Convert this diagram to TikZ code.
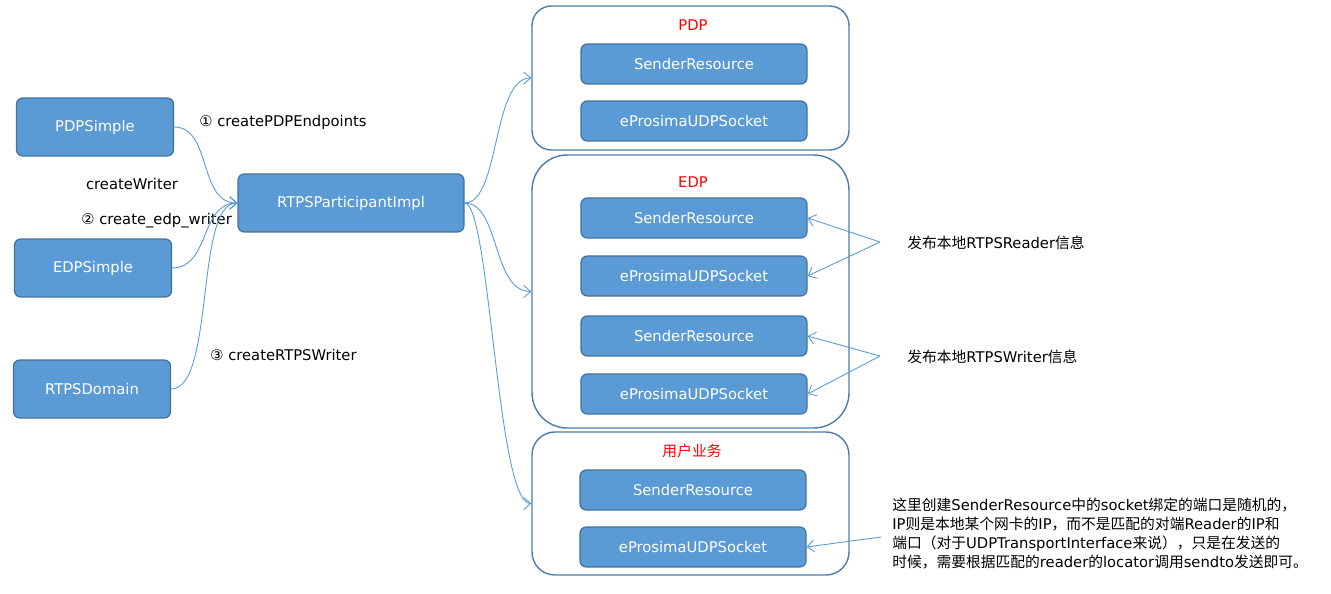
\documentclass[tikz,border=0pt]{standalone}
\usepackage{fontspec}
\setmainfont{DejaVu Sans}
\newfontfamily\cjk{Noto Sans CJK SC}
\usetikzlibrary{arrows.meta}
\definecolor{boxfill}{HTML}{5B9BD5}
\definecolor{boxline}{HTML}{41719C}
\definecolor{conline}{HTML}{5B9BD5}
\definecolor{grpline}{HTML}{4F7DAA}
\definecolor{lblred}{HTML}{FF0000}
\begin{document}
\begin{tikzpicture}[x=0.02cm,y=-0.02cm,
  txt/.style={font=\fontsize{8.4}{10.8}\selectfont, inner sep=0pt},
  blk/.style={draw=boxline, line width=0.7pt, fill=boxfill, rounded corners=3.5pt,
    text=white, txt, minimum width=3.14cm, minimum height=1.16cm},
  inner/.style={blk, minimum width=4.52cm, minimum height=0.8cm},
  grp/.style={draw=grpline, line width=0.8pt, fill=white, minimum width=6.34cm, inner sep=0pt},
  red/.style={txt, text=lblred},
  con/.style={draw=conline, line width=0.5pt, -{Straight Barb[length=4pt,width=7pt]}},
]
\useasboundingbox (0,0) rectangle (1331,594);

% left boxes
\node[blk] (pdps) at (95,127) {PDPSimple};
\node[blk] (edps) at (93,268) {EDPSimple};
\node[blk] (dom) at (92,389) {RTPSDomain};
\node[blk, minimum width=4.52cm] (rtps) at (351,203) {RTPSParticipantImpl};

% groups
\node[grp, minimum height=2.88cm, rounded corners=11pt] (gpdp) at (690.5,78) {};
\node[grp, minimum height=5.46cm, rounded corners=20pt] (gedp) at (690.5,291.5) {};
\node[grp, minimum height=2.86cm, rounded corners=13pt] (gusr) at (690.5,503.5) {};

\node[red] (lpdp) at (693,25) {PDP};
\node[red] (ledp) at (693,182) {EDP};
\node[red] (lusr) at (692,451) {\cjk 用户业务};

\node[inner] (sr1) at (694,64) {SenderResource};
\node[inner] (ep1) at (694,121) {eProsimaUDPSocket};
\node[inner] (sr2) at (694,218) {SenderResource};
\node[inner] (ep2) at (694,276) {eProsimaUDPSocket};
\node[inner] (sr3) at (694,336) {SenderResource};
\node[inner] (ep3) at (694,394) {eProsimaUDPSocket};
\node[inner] (sr4) at (693,490) {SenderResource};
\node[inner] (ep4) at (693,547) {eProsimaUDPSocket};

% labels
\node[txt, anchor=west] (l1) at (199,122) {① createPDPEndpoints};
\node[txt] (lcw) at (132,184) {createWriter};
\node[txt, anchor=west] (l2) at (81,221) {② create\_edp\_writer};
\node[txt, anchor=west] (l3) at (210,355) {③ createRTPSWriter};

% connectors into RTPSParticipantImpl
\draw[con] (pdps.east) .. controls (212,127) and (198,203) .. (rtps.west);
\draw[con] (edps.east) .. controls (210,268) and (200,203) .. (rtps.west);
\draw[con] (dom.east) .. controls (215,389) and (195,203) .. (rtps.west);

% connectors out of RTPSParticipantImpl
\draw[con] (rtps.east) .. controls (500,203) and (492,78) .. (gpdp.west);
\draw[con] (rtps.east) .. controls (500,203) and (492,291.5) .. (gedp.west);
\draw[con] (rtps.east) .. controls (490,203) and (497,503.5) .. (gusr.west);

% annotations
\node[txt, anchor=west] (nrd) at (907,243) {{\cjk 发布本地}RTPSReader{\cjk 信息}};
\node[txt, anchor=west] (nwr) at (907,357) {{\cjk 发布本地}RTPSWriter{\cjk 信息}};
\coordinate (prd) at (880,242);
\coordinate (pwr) at (880,356);
\draw[con] (prd) -- (sr2.east);
\draw[con] (prd) -- (ep2.east);
\draw[con] (pwr) -- (sr3.east);
\draw[con] (pwr) -- (ep3.east);

\node[txt, anchor=west, align=left] (note) at (892,533.5) {%
{\cjk 这里创建}SenderResource{\cjk 中的}socket{\cjk 绑定的端口是随机的，}\\
IP{\cjk 则是本地某个网卡的}IP{\cjk ，而不是匹配的对端}Reader{\cjk 的}IP{\cjk 和}\\
{\cjk 端口（对于}UDPTransportInterface{\cjk 来说），只是在发送的}\\
{\cjk 时候，需要根据匹配的}reader{\cjk 的}locator{\cjk 调用}sendto{\cjk 发送即可。}};
\coordinate (pnote) at (881,537);
\draw[con] (pnote) -- (ep4.east);
\end{tikzpicture}
\end{document}
